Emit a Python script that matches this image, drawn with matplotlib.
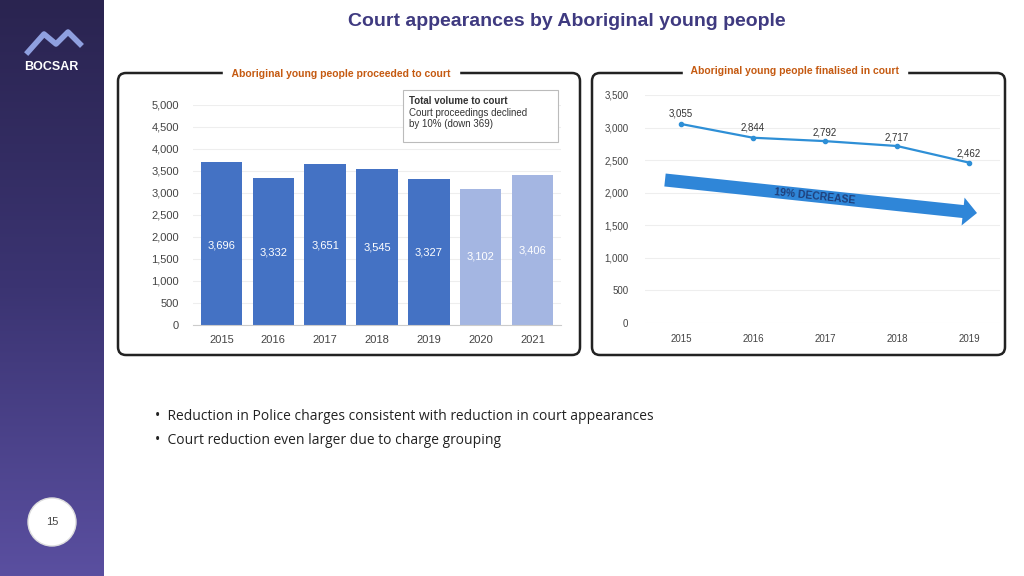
import matplotlib.pyplot as plt
import numpy as np
from matplotlib.patches import FancyBboxPatch, Circle, Polygon
from matplotlib.colors import LinearSegmentedColormap

plt.rcParams["font.family"] = "Liberation Sans"

W, H = 1024, 576

years_left = ["2015", "2016", "2017", "2018", "2019", "2020", "2021"]
proceeded = [3696, 3332, 3651, 3545, 3327, 3102, 3406]
years_right = ["2015", "2016", "2017", "2018", "2019"]
finalised = [3055, 2844, 2792, 2717, 2462]


def px(x, y, w, h):
    # pixel box (top-left origin) -> figure fraction rect
    return [x / W, 1 - (y + h) / H, w / W, h / H]


fig = plt.figure(figsize=(W / 100, H / 100), dpi=100, facecolor="white")
bg = fig.add_axes([0, 0, 1, 1])
bg.axis("off")

# sidebar gradient
grad = np.linspace(0, 1, 256).reshape(-1, 1)
bg.imshow(grad, extent=[0, 104, H, 0], aspect="auto", zorder=0,
          cmap=LinearSegmentedColormap.from_list("side", ["#2a2450", "#3b3472", "#5a4fa0"]))
bg.set_xlim(0, W)
bg.set_ylim(H, 0)
bg.plot([28, 44, 56, 68, 80], [52, 34, 44, 32, 44], color="#8fa0e0", lw=4, zorder=2)
bg.text(51, 67, "BOCSAR", color="white", fontsize=9, fontweight="bold", ha="center", va="center")
bg.add_patch(Circle((52, 522), 24, facecolor="white", edgecolor="#dddddd", zorder=2))
bg.text(52, 522, "15", fontsize=8, ha="center", va="center", color="#444444", zorder=3)

bg.text(567, 21, "Court appearances by Aboriginal young people", fontsize=14, fontweight="bold",
        color="#3f3a80", ha="center", va="center")

for x0, x1 in [(118, 580), (592, 1005)]:
    bg.add_patch(FancyBboxPatch((x0, 73), x1 - x0, 282, boxstyle="round,pad=0,rounding_size=8",
                                facecolor="none", edgecolor="#222222", lw=1.8, zorder=1))
bg.text(341, 74, " Aboriginal young people proceeded to court ", fontsize=7.5, fontweight="bold",
        color="#c55a11", ha="center", va="center", backgroundcolor="white", zorder=3)
bg.text(795, 71, " Aboriginal young people finalised in court ", fontsize=7.5, fontweight="bold",
        color="#c55a11", ha="center", va="center", backgroundcolor="white", zorder=3)

bg.text(155, 416, "•  Reduction in Police charges consistent with reduction in court appearances",
        fontsize=10, va="center", color="#222222", family="Open Sans")
bg.text(155, 440, "•  Court reduction even larger due to charge grouping",
        fontsize=10, va="center", color="#222222", family="Open Sans")

# left chart
ax = fig.add_axes(px(193, 105, 368, 220))
ax.patch.set_visible(False)
cols = ["#4472c4"] * 5 + ["#a4b6e2"] * 2
ax.bar(years_left, proceeded, width=0.8, color=cols)
ax.set_xlim(-0.55, 6.55)
ax.set_ylim(0, 5000)
ax.set_yticks(range(0, 5001, 500))
ax.set_yticklabels([f"{v:,}" for v in range(0, 5001, 500)], fontsize=8, color="#444444")
ax.tick_params(axis="x", labelsize=8, colors="#444444", length=0, pad=7)
ax.tick_params(axis="y", length=0, pad=10)
ax.grid(axis="y", color="#eeeeee", lw=0.8)
ax.set_axisbelow(True)
for s in ["top", "right", "left"]:
    ax.spines[s].set_visible(False)
ax.spines["bottom"].set_color("#cccccc")
label_y = [1800, 1650, 1800, 1750, 1650, 1550, 1700]
for i, v in enumerate(proceeded):
    ax.text(i, label_y[i], f"{v:,}", ha="center", va="center", fontsize=8, color="white")

# right chart
ax2 = fig.add_axes(px(645, 95, 355, 228))
ax2.patch.set_visible(False)
ax2.plot(years_right, finalised, color="#2e8fd6", lw=1.6, marker="o", ms=3, zorder=3)
ax2.set_ylim(0, 3500)
ax2.set_xlim(-0.5, 4.43)
ax2.set_yticks(range(0, 3501, 500))
ax2.set_yticklabels([f"{v:,}" for v in range(0, 3501, 500)], fontsize=7, color="#444444")
ax2.tick_params(axis="x", labelsize=7, colors="#444444", length=0, pad=8)
ax2.tick_params(axis="y", length=0, pad=12)
ax2.grid(axis="y", color="#eeeeee", lw=0.8)
for s in ax2.spines.values():
    s.set_visible(False)
for i, v in enumerate(finalised):
    ax2.text(i, v + (80 if i < 2 else 60), f"{v:,}", ha="center", va="bottom", fontsize=7,
             color="#333333")

# overlay for annotations drawn above the charts
ov = fig.add_axes([0, 0, 1, 1])
ov.axis("off")
ov.set_xlim(0, W)
ov.set_ylim(H, 0)

ov.add_patch(FancyBboxPatch((403, 90), 155, 52, boxstyle="square,pad=0", facecolor="white",
                            edgecolor="#bbbbbb", lw=0.8, zorder=5))
ov.text(409, 101, "Total volume to court", fontsize=7, fontweight="bold", color="#333333",
        va="center", zorder=6)
ov.text(409, 108, "Court proceedings declined\nby 10% (down 369)", fontsize=7, color="#333333",
        va="top", zorder=6, linespacing=1.1)

x0, y0, x1, y1 = 665, 180, 977, 213
d = np.array([x1 - x0, y1 - y0], float)
d /= np.hypot(*d)
n = np.array([-d[1], d[0]])
hl, hw, tw = 14, 14, 6.5
base = np.array([x1, y1]) - d * hl
p0 = np.array([x0, y0])
pts = [p0 + n * tw, base + n * tw, base + n * hw, (x1, y1), base - n * hw, base - n * tw, p0 - n * tw]
ov.add_patch(Polygon(pts, closed=True, facecolor="#2f86d8", edgecolor="none", zorder=4))
ang = np.degrees(np.arctan2(y1 - y0, x1 - x0))
ov.text(815, 196, "19% DECREASE", fontsize=7.5, fontweight="bold", color="#1f3f7a",
        rotation=-ang, rotation_mode="anchor", ha="center", va="center", zorder=5)

fig.savefig("out.png", dpi=100)
